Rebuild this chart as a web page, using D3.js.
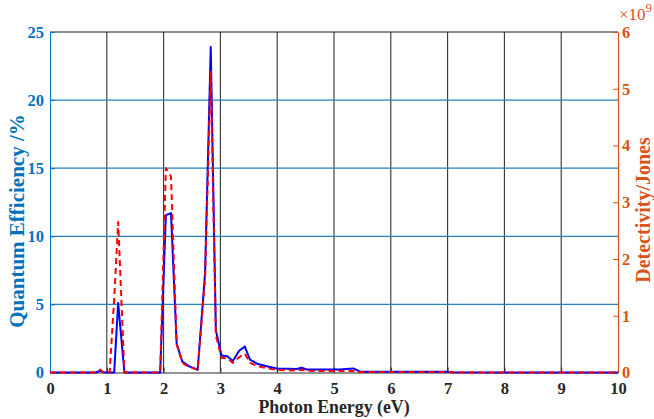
<!DOCTYPE html>
<html>
<head>
<meta charset="utf-8">
<script src="https://cdn.jsdelivr.net/npm/d3@7"></script>
<style>
  html, body { margin: 0; padding: 0; background: #fff; }
  svg { display: block; }
  text { font-family: "Liberation Serif", "Times New Roman", serif; font-weight: bold; }
</style>
</head>
<body>
<svg id="chart" width="654" height="419"></svg>
<script>
// Photon energy samples (eV)
const energy = [0, 0.5, 0.8, 0.88, 0.95, 1.05, 1.13, 1.2, 1.31, 1.5, 1.94, 2.04, 2.13, 2.23, 2.33, 2.45, 2.6, 2.73, 2.83, 2.92, 3.02, 3.12, 3.22, 3.33, 3.43, 3.52, 3.66, 3.85, 3.99, 4.2, 4.34, 4.43, 4.52, 4.8, 5.1, 5.34, 5.46, 6.0, 6.5, 6.98, 7.1, 8, 9, 10];
// Quantum efficiency (%)
const quantumEfficiency = [0, 0, 0, 0.12, 0.02, 0, 0, 5.1, 0, 0, 0, 11.55, 11.7, 2.1, 0.8, 0.45, 0.2, 7.3, 23.9, 3.1, 1.25, 1.2, 0.85, 1.6, 1.9, 0.95, 0.62, 0.42, 0.3, 0.28, 0.26, 0.35, 0.22, 0.22, 0.22, 0.3, 0.06, 0.05, 0.05, 0.05, 0.01, 0, 0, 0];
// Detectivity (x10^9 Jones)
const detectivity = [0, 0, 0, 0.05, 0, 0, 1.3, 2.65, 0, 0, 0, 3.6, 3.45, 0.5, 0.17, 0.1, 0.05, 1.65, 5.3, 0.65, 0.26, 0.25, 0.17, 0.27, 0.33, 0.17, 0.11, 0.07, 0.045, 0.04, 0.035, 0.05, 0.03, 0.025, 0.025, 0.03, 0.01, 0.01, 0.01, 0.01, 0, 0, 0, 0];

// Tick values
const energyTicks = [0, 1, 2, 3, 4, 5, 6, 7, 8, 9, 10];
const qeTicks = [0, 5, 10, 15, 20, 25];
const detTicks = [0, 1, 2, 3, 4, 5, 6];

const leftColor = "#0072BD";
const rightColor = "#D95319";
const gridBlue = "#2a7fc0";

const margin = { left: 50, right: 36, top: 32, bottom: 46.5 };
const W = 654, H = 419;
const plotW = W - margin.left - margin.right;
const plotH = H - margin.top - margin.bottom;

const svg = d3.select("#chart");
const g = svg.append("g").attr("transform", `translate(${margin.left},${margin.top})`);

const x = d3.scaleLinear().domain([0, 10]).range([0, plotW]);
const yL = d3.scaleLinear().domain([0, 25]).range([plotH, 0]);
const yR = d3.scaleLinear().domain([0, 6]).range([plotH, 0]);

// vertical grid (dark)
g.append("g").selectAll("line").data(energyTicks.slice(1, -1)).join("line")
  .attr("x1", d => x(d)).attr("x2", d => x(d))
  .attr("y1", 0).attr("y2", plotH)
  .attr("stroke", "#333").attr("stroke-width", 1.1);

// horizontal grid (blue, left-axis ticks)
g.append("g").selectAll("line").data(qeTicks.slice(1, -1)).join("line")
  .attr("x1", 0).attr("x2", plotW)
  .attr("y1", d => yL(d)).attr("y2", d => yL(d))
  .attr("stroke", gridBlue).attr("stroke-width", 1.2);

// top border
g.append("line").attr("x1", 0).attr("x2", plotW).attr("y1", 0).attr("y2", 0)
  .attr("stroke", "#1a1a1a").attr("stroke-width", 1);

// bottom x axis
const xAxis = g.append("g").attr("transform", `translate(0,${plotH})`)
  .call(d3.axisBottom(x).tickValues(energyTicks).tickFormat(d3.format("d"))
    .tickSizeInner(-5).tickSizeOuter(0).tickPadding(10));
xAxis.select(".domain").attr("stroke", "#262626");
xAxis.selectAll(".tick line").attr("stroke", "#262626");
xAxis.selectAll("text").attr("fill", "#262626").attr("font-size", 16.5);

// left axis
const yAxisL = g.append("g")
  .call(d3.axisLeft(yL).tickValues(qeTicks).tickFormat(d3.format("d"))
    .tickSizeInner(-5).tickSizeOuter(0).tickPadding(6));
yAxisL.select(".domain").attr("stroke", leftColor);
yAxisL.selectAll(".tick line").attr("stroke", leftColor);
yAxisL.selectAll("text").attr("fill", leftColor).attr("font-size", 16.5);

// right axis
const yAxisR = g.append("g").attr("transform", `translate(${plotW},0)`)
  .call(d3.axisRight(yR).tickValues(detTicks).tickFormat(d3.format("d"))
    .tickSizeInner(-5).tickSizeOuter(0).tickPadding(4));
yAxisR.select(".domain").attr("stroke", rightColor).attr("stroke-width", 1.2);
yAxisR.selectAll(".tick line").attr("stroke", rightColor);
yAxisR.selectAll("text").attr("fill", rightColor).attr("font-size", 16.5);

// curves
const qeLine = d3.line().x((d, i) => x(energy[i])).y(d => yL(d));
const detLine = d3.line().x((d, i) => x(energy[i])).y(d => yR(d));

g.append("path").datum(quantumEfficiency)
  .attr("d", qeLine).attr("fill", "none")
  .attr("stroke", "#0000FF").attr("stroke-width", 2).attr("stroke-linejoin", "round");

g.append("path").datum(detectivity)
  .attr("d", detLine).attr("fill", "none")
  .attr("stroke", "#FF0000").attr("stroke-width", 2)
  .attr("stroke-dasharray", "6,4").attr("stroke-linejoin", "round");

// axis titles
svg.append("text")
  .attr("x", margin.left + plotW / 2).attr("y", 413)
  .attr("text-anchor", "middle").attr("font-size", 17.8).attr("fill", "#262626")
  .text("Photon Energy (eV)");

svg.append("text")
  .attr("transform", "translate(24,221) rotate(-90)")
  .attr("text-anchor", "middle").attr("font-size", 21).attr("fill", leftColor)
  .text("Quantum Efficiency /%");

svg.append("text")
  .attr("transform", "translate(650,210) rotate(-90)")
  .attr("text-anchor", "middle").attr("font-size", 20).attr("fill", rightColor)
  .text("Detectivity/Jones");

// exponent marker for the right axis
const expo = svg.append("text")
  .attr("x", 619).attr("y", 19.5).attr("font-size", 17).attr("fill", rightColor)
  .style("font-weight", "normal");
expo.append("tspan").text("×10");
expo.append("tspan").attr("dy", -8).attr("font-size", 13).text("9");
</script>
</body>
</html>
